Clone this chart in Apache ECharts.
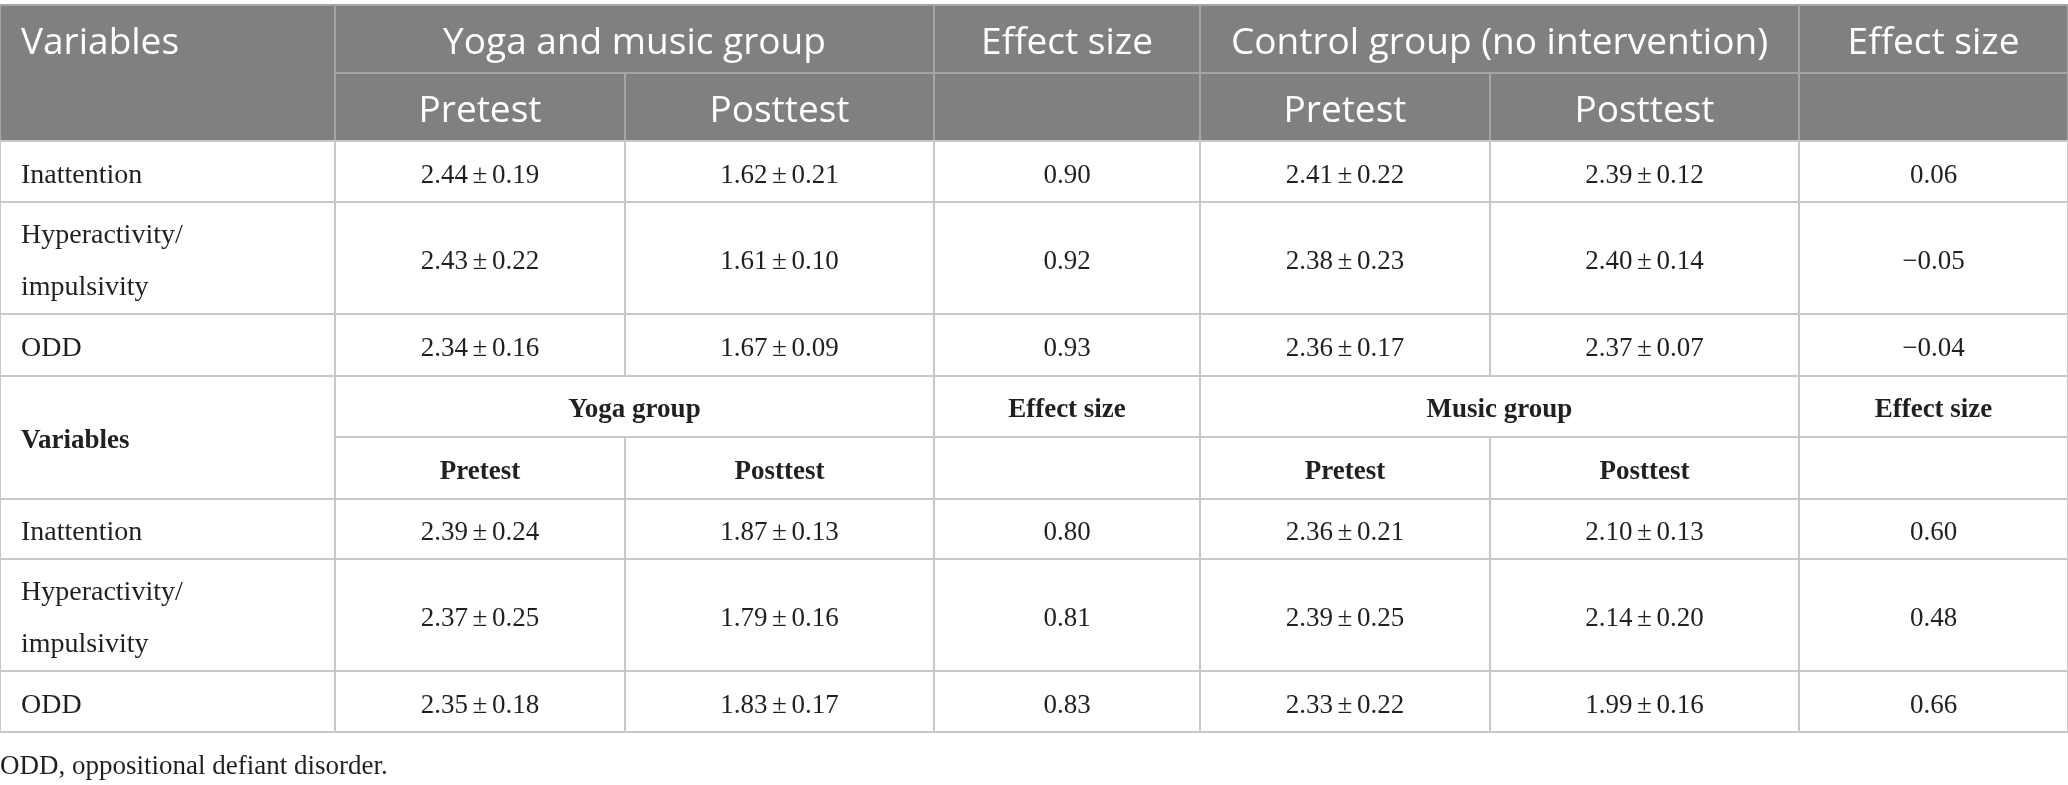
<!DOCTYPE html>
<html>
<head>
<meta charset="utf-8">
<title>Table</title>
<script src="https://cdn.jsdelivr.net/npm/echarts@6.0.0/dist/echarts.min.js"></script>
<style>
  html, body { margin: 0; padding: 0; background: #fff; }
  #table_plot { width: 2068px; height: 785px; }
</style>
</head>
<body>
<div id="table_plot"></div>
<script>
// data ================================================================================================================
var variables = ["Inattention", "Hyperactivity/\nimpulsivity", "ODD"];
var topGroups = ["Yoga and music group", "Control group (no intervention)"];
var bottomGroups = ["Yoga group", "Music group"];
var phases = ["Pretest", "Posttest"];
var effectLabel = "Effect size";
var varLabel = "Variables";
var footnote = "ODD, oppositional defiant disorder.";

var yogaMusicPreMean = [2.44, 2.43, 2.34];
var yogaMusicPreSd = [0.19, 0.22, 0.16];
var yogaMusicPostMean = [1.62, 1.61, 1.67];
var yogaMusicPostSd = [0.21, 0.10, 0.09];
var yogaMusicEffect = [0.90, 0.92, 0.93];

var controlPreMean = [2.41, 2.38, 2.36];
var controlPreSd = [0.22, 0.23, 0.17];
var controlPostMean = [2.39, 2.40, 2.37];
var controlPostSd = [0.12, 0.14, 0.07];
var controlEffect = [0.06, -0.05, -0.04];

var yogaPreMean = [2.39, 2.37, 2.35];
var yogaPreSd = [0.24, 0.25, 0.18];
var yogaPostMean = [1.87, 1.79, 1.83];
var yogaPostSd = [0.13, 0.16, 0.17];
var yogaEffect = [0.80, 0.81, 0.83];

var musicPreMean = [2.36, 2.39, 2.33];
var musicPreSd = [0.21, 0.25, 0.22];
var musicPostMean = [2.10, 2.14, 1.99];
var musicPostSd = [0.13, 0.20, 0.16];
var musicEffect = [0.60, 0.48, 0.66];

// layout ==============================================================================================================
var colEdges = [0, 335, 625, 934, 1200, 1490, 1799, 2068];
var rowEdges = [5, 73, 141, 202, 314, 376, 437, 499, 559, 671, 732];

var SANS = "'Open Sans', 'Noto Sans', sans-serif";
var SERIF = "'Liberation Serif', 'DejaVu Serif', serif";

function fmt(m, s) { return m.toFixed(2) + "\u2006\u00b1\u2006" + s.toFixed(2); }
function fmtEff(e) { return (e < 0 ? "\u2212" : "") + Math.abs(e).toFixed(2); }

var cells = [];
function cell(c0, c1, r0, r1, text, kind, opt) {
    opt = opt || {};
    cells.push({c0: c0, c1: c1, r0: r0, r1: r1, text: text, kind: kind,
                left: !!opt.left, textRow: opt.textRow});
}

// top header
cell(0, 1, 0, 2, varLabel, "head", {left: true, textRow: 0});
cell(1, 3, 0, 1, topGroups[0], "head");
cell(3, 4, 0, 1, effectLabel, "head");
cell(4, 6, 0, 1, topGroups[1], "head");
cell(6, 7, 0, 1, effectLabel, "head");
cell(1, 2, 1, 2, phases[0], "head");
cell(2, 3, 1, 2, phases[1], "head");
cell(3, 4, 1, 2, "", "head");
cell(4, 5, 1, 2, phases[0], "head");
cell(5, 6, 1, 2, phases[1], "head");
cell(6, 7, 1, 2, "", "head");

function bodyRows(r, pm, ps, qm, qs, e1, cm, cs, dm, ds, e2) {
    for (var i = 0; i < variables.length; i++) {
        cell(0, 1, r + i, r + i + 1, variables[i], "label", {left: true});
        cell(1, 2, r + i, r + i + 1, fmt(pm[i], ps[i]), "body");
        cell(2, 3, r + i, r + i + 1, fmt(qm[i], qs[i]), "body");
        cell(3, 4, r + i, r + i + 1, fmtEff(e1[i]), "body");
        cell(4, 5, r + i, r + i + 1, fmt(cm[i], cs[i]), "body");
        cell(5, 6, r + i, r + i + 1, fmt(dm[i], ds[i]), "body");
        cell(6, 7, r + i, r + i + 1, fmtEff(e2[i]), "body");
    }
}
bodyRows(2, yogaMusicPreMean, yogaMusicPreSd, yogaMusicPostMean, yogaMusicPostSd, yogaMusicEffect,
         controlPreMean, controlPreSd, controlPostMean, controlPostSd, controlEffect);

// lower header
cell(0, 1, 5, 7, varLabel, "sub", {left: true});
cell(1, 3, 5, 6, bottomGroups[0], "sub");
cell(3, 4, 5, 6, effectLabel, "sub");
cell(4, 6, 5, 6, bottomGroups[1], "sub");
cell(6, 7, 5, 6, effectLabel, "sub");
cell(1, 2, 6, 7, phases[0], "sub");
cell(2, 3, 6, 7, phases[1], "sub");
cell(3, 4, 6, 7, "", "sub");
cell(4, 5, 6, 7, phases[0], "sub");
cell(5, 6, 6, 7, phases[1], "sub");
cell(6, 7, 6, 7, "", "sub");

bodyRows(7, yogaPreMean, yogaPreSd, yogaPostMean, yogaPostSd, yogaEffect,
         musicPreMean, musicPreSd, musicPostMean, musicPostSd, musicEffect);

// plot ================================================================================================================
var myChart = echarts.init(document.getElementById("table_plot"), null, {renderer: "canvas"});

function renderCell(params, api) {
    var c = cells[params.dataIndex];
    var p0 = api.coord([api.value(0), api.value(1)]);
    var p1 = api.coord([api.value(2), api.value(3)]);
    var head = c.kind === "head";
    var ty0 = c.textRow != null ? api.coord([0, rowEdges[c.textRow]])[1] : p0[1];
    var ty1 = c.textRow != null ? api.coord([0, rowEdges[c.textRow + 1]])[1] : p1[1];
    var font;
    if (head) font = "37px " + SANS;
    else if (c.kind === "sub") font = "bold 27px " + SERIF;
    else if (c.kind === "label") font = "28px " + SERIF;
    else font = "27px " + SERIF;
    return {
        type: "group",
        children: [{
            type: "rect",
            shape: {x: p0[0], y: p0[1], width: p1[0] - p0[0], height: p1[1] - p0[1]},
            style: {fill: head ? "#7f807f" : "#ffffff", stroke: head ? "#a4a5a4" : "#c8c8c8", lineWidth: 2}
        }, {
            type: "text",
            style: {
                text: c.text,
                x: c.left ? p0[0] + 21 : (p0[0] + p1[0]) / 2,
                y: (ty0 + ty1) / 2 + 4,
                align: c.left ? "left" : "center",
                verticalAlign: "middle",
                font: font,
                lineHeight: c.kind === "label" ? 52 : 40,
                fill: head ? "#ffffff" : "#231f20"
            }
        }]
    };
}

myChart.setOption({
    animation: false,
    title: {
        text: footnote, left: 0, top: 753, padding: 0,
        textStyle: {fontFamily: SERIF, fontSize: 27, fontWeight: "normal", color: "#231f20"}
    },
    grid: {left: 0, right: 0, top: 0, bottom: 0},
    xAxis: {type: "value", min: 0, max: 2068, show: false},
    yAxis: {type: "value", min: 0, max: 785, inverse: true, show: false},
    series: [{
        type: "custom",
        renderItem: renderCell,
        clip: false,
        data: cells.map(function (c) {
            return [colEdges[c.c0], rowEdges[c.r0], colEdges[c.c1], rowEdges[c.r1]];
        })
    }]
});
</script>
</body>
</html>
